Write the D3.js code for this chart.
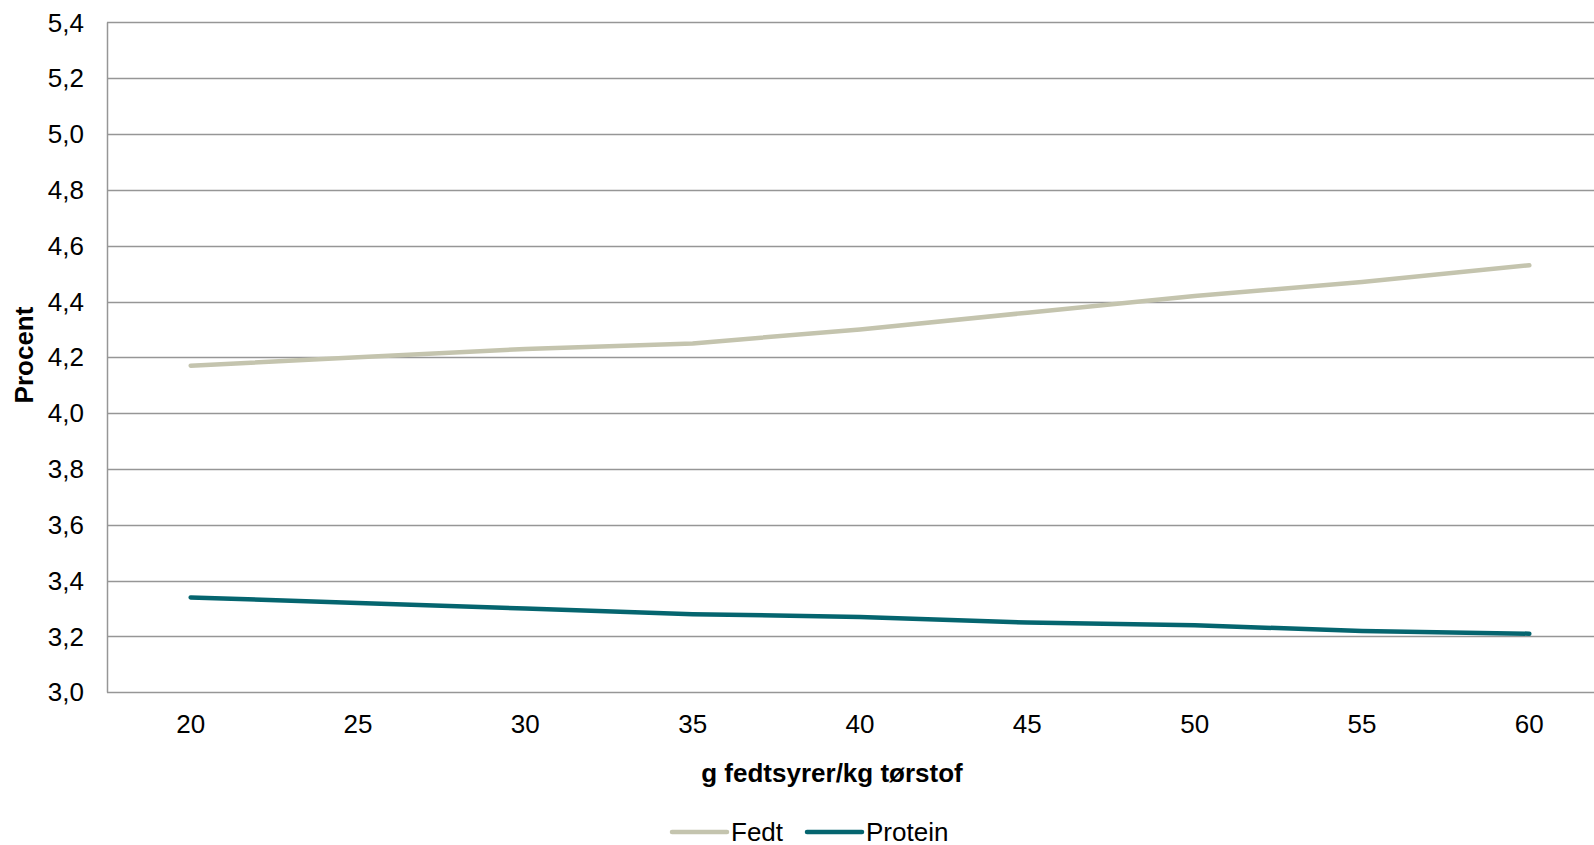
<!DOCTYPE html>
<html><head><meta charset="utf-8">
<script src="https://cdn.jsdelivr.net/npm/d3@7"></script>
<style>body{margin:0;background:#fff}svg{display:block;font-family:"Liberation Sans",Arial,sans-serif}</style>
</head><body><svg id="c" width="1594" height="845"></svg>
<script>
const categories = [20, 25, 30, 35, 40, 45, 50, 55, 60];
const fedt = [4.17, 4.20, 4.23, 4.25, 4.30, 4.36, 4.42, 4.47, 4.53];
const protein = [3.34, 3.32, 3.30, 3.28, 3.27, 3.25, 3.24, 3.22, 3.21];
const yTicks = [3.0, 3.2, 3.4, 3.6, 3.8, 4.0, 4.2, 4.4, 4.6, 4.8, 5.0, 5.2, 5.4];
const seriesNames = ["Fedt", "Protein"];
const colors = ["#c4c4ae", "#05656f"];

(function () {
const svg = d3.select("#c");
const mLeft = 107, mRight = 1613, mTop = 22.4, mBottom = 692.3;
const x = d3.scalePoint().domain(categories).range([mLeft, mRight]).padding(0.5);
const y = d3.scaleLinear().domain([3.0, 5.4]).range([mBottom, mTop]);
const fmt = v => d3.format(".1f")(v).replace(".", ",");
const fs = 26;

// gridlines
svg.append("g").selectAll("line").data(yTicks).join("line")
  .attr("x1", mLeft).attr("x2", 1594)
  .attr("y1", d => Math.round(y(d)) + 0.5).attr("y2", d => Math.round(y(d)) + 0.5)
  .attr("stroke", "#969696").attr("stroke-width", 1.5);
// y axis line
svg.append("line").attr("x1", mLeft + 0.5).attr("x2", mLeft + 0.5)
  .attr("y1", Math.round(y(5.4)) + 0.5).attr("y2", Math.round(y(3.0)) + 0.5)
  .attr("stroke", "#969696").attr("stroke-width", 1.5);

// y labels
svg.append("g").selectAll("text").data(yTicks).join("text")
  .attr("x", 84).attr("y", d => y(d)).attr("dy", "0.35em")
  .attr("text-anchor", "end").attr("font-size", fs).attr("fill", "#000")
  .text(fmt);
// x labels
svg.append("g").selectAll("text").data(categories).join("text")
  .attr("x", d => x(d)).attr("y", 724).attr("dy", "0.35em")
  .attr("text-anchor", "middle").attr("font-size", fs).attr("fill", "#000")
  .text(d => d);

// titles
svg.append("text").attr("x", 832).attr("y", 773).attr("dy", "0.35em")
  .attr("text-anchor", "middle").attr("font-size", fs).attr("font-weight", "bold")
  .text("g fedtsyrer/kg tørstof");
svg.append("text").attr("transform", "translate(24,355) rotate(-90)").attr("dy", "0.35em")
  .attr("text-anchor", "middle").attr("font-size", fs).attr("font-weight", "bold")
  .text("Procent");

// lines
const line = d3.line().x((d, i) => x(categories[i])).y(d => y(d));
[fedt, protein].forEach((s, i) => {
  svg.append("path").attr("d", line(s)).attr("fill", "none")
    .attr("stroke", colors[i]).attr("stroke-width", 4.5)
    .attr("stroke-linecap", "round").attr("stroke-linejoin", "round");
});

// legend
const legX = [672, 807];
seriesNames.forEach((n, i) => {
  svg.append("line").attr("x1", legX[i]).attr("x2", legX[i] + 55)
    .attr("y1", 832).attr("y2", 832).attr("stroke", colors[i])
    .attr("stroke-width", 4.5).attr("stroke-linecap", "round");
  svg.append("text").attr("x", legX[i] + 59).attr("y", 832).attr("dy", "0.35em")
    .attr("font-size", fs).text(n);
});
})();
</script></body></html>
